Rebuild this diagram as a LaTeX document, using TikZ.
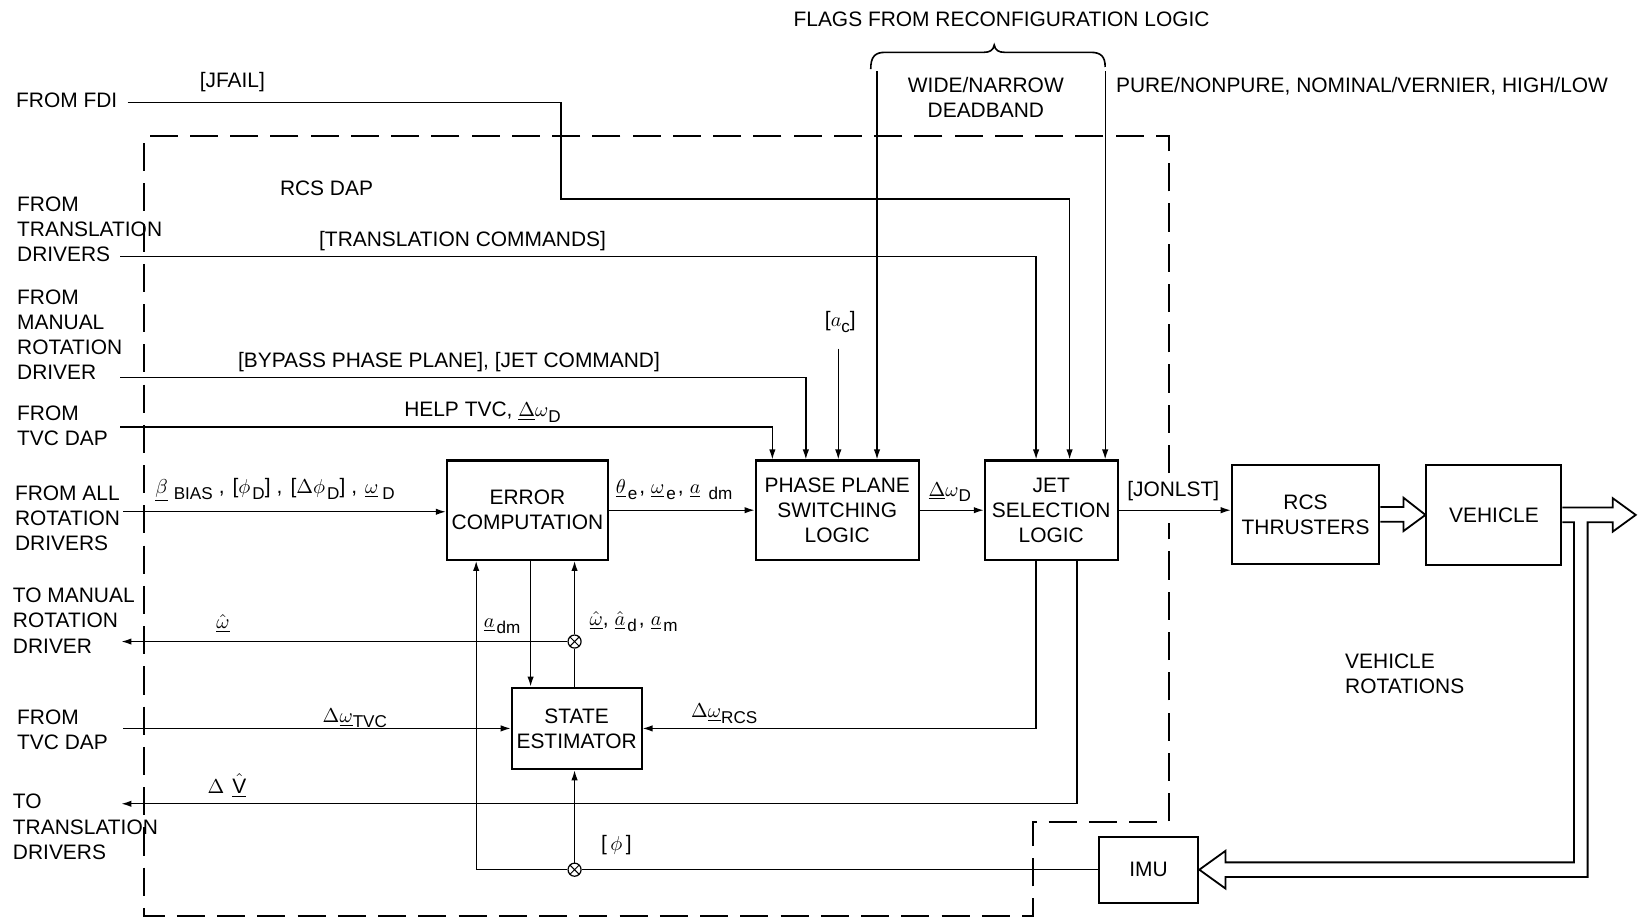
\documentclass[tikz,border=0pt]{standalone}
\usepackage{fontspec}
\setmainfont{Liberation Sans}
\setsansfont{Liberation Sans}
\usetikzlibrary{arrows.meta,calc}
\newcommand{\sbx}[1]{\raisebox{-0.5ex}{\fontsize{8.5}{8.5}\selectfont #1}}
\begin{document}
\begin{tikzpicture}[x=0.52pt,y=-0.52pt,
  txt/.style={inner sep=0pt,font=\fontsize{10.4}{12.5}\selectfont},
  bl/.style={txt,anchor=base},
  bw/.style={txt,anchor=base west},
  lft/.style={txt,align=left,anchor=west},
  blk/.style={draw,line width=1pt,align=center,inner sep=0pt,font=\fontsize{10.4}{12.5}\selectfont},
  ln/.style={line width=0.65pt},
  arr/.style={ln,-{Latex[length=5pt,width=3.2pt]}},
  dbox/.style={line width=1pt,dash pattern=on 14pt off 6pt},
  hol/.style={line width=0.9pt,line join=miter},
  jn/.style={circle,draw,line width=0.6pt,fill=white,inner sep=0pt,minimum size=6.5pt,
    path picture={\draw[line width=0.5pt] (path picture bounding box.south west)--(path picture bounding box.north east) (path picture bounding box.north west)--(path picture bounding box.south east);}}
]
\useasboundingbox (0,0) rectangle (1568,878);

% blocks
\node[blk,minimum width=80.08pt,minimum height=49.4pt] (err) at (504,487.5) {ERROR\\COMPUTATION};
\node[blk,minimum width=81.12pt,minimum height=49.4pt] (ph) at (800,487.5) {PHASE PLANE\\SWITCHING\\LOGIC};
\node[blk,minimum width=66.04pt,minimum height=49.4pt] (jet) at (1004.5,487.5) {JET\\SELECTION\\LOGIC};
\node[blk,minimum width=73.32pt,minimum height=49.4pt] (rcs) at (1247.5,491.5) {RCS\\THRUSTERS};
\node[blk,minimum width=67.08pt,minimum height=49.92pt] (veh) at (1427.5,492) {VEHICLE};
\node[blk,minimum width=64.48pt,minimum height=40.56pt] (st) at (551,696) {STATE\\ESTIMATOR};
\node[blk,minimum width=49.4pt,minimum height=32.76pt] (imu) at (1097.5,831) {IMU};

% junctions
\node[jn] (c1) at (549,613) {};
\node[jn] (c2) at (549,831) {};

% free ends
\coordinate (fdi) at (122,98);
\coordinate (trn) at (115,245);
\coordinate (man) at (115,361);
\coordinate (tvca) at (115,408);
\coordinate (allr) at (118,489);
\coordinate (toman) at (116,613);
\coordinate (tvcb) at (118,696);
\coordinate (totr) at (116,768);
\coordinate (flagA) at (838,68);
\coordinate (flagB) at (1056,68);
\coordinate (acq) at (801,333);

% dashed RCS DAP border (gap at the [JONLST] label)
\draw[dbox] (1117,452) -- (1117,130) -- (138,130) -- (138,875) -- (987,875) -- (987,785) -- (1117,785) -- (1117,500);

% brace
\draw[line width=0.8pt] (832,66) .. controls (832,54) and (836,50) .. (846,50) -- (940,50)
  .. controls (946,50) and (949,48) .. (950,43) .. controls (951,48) and (954,50) .. (960,50)
  -- (1042,50) .. controls (1052,50) and (1056,54) .. (1056,64);

% connectors
\draw[arr] (fdi) -- (536,98) -- (536,190) -- (1022,190) -- (1022,0 |- jet.north);
\draw[arr] (trn) -- (990,245) -- (990,0 |- jet.north);
\draw[arr] (flagB) -- (flagB |- jet.north);
\draw[arr] (man) -- (770,361) -- (770,0 |- ph.north);
\draw[arr] (tvca) -- (738,408) -- (738,0 |- ph.north);
\draw[arr] (acq) -- (acq |- ph.north);
\draw[arr] (flagA) -- (flagA |- ph.north);
\draw[arr] (allr) -- (allr -| err.west);
\draw[arr] (err.east) -- (ph.west);
\draw[arr] (ph.east) -- (jet.west);
\draw[arr] (jet.east) -- (jet.east -| rcs.west);
\draw[arr] (507,0 |- err.south) -- (507,0 |- st.north);
\draw[ln] (c1 |- st.north) -- (c1);
\draw[arr] (c1) -- (c1 |- err.south);
\draw[arr] (c1) -- (toman);
\draw[arr] (c2) -- (c2 |- st.south);
\draw[ln] (imu) -- (c2);
\draw[arr] (c2) -- (455,831) -- (455,0 |- err.south);
\draw[arr] (tvcb) -- (tvcb -| st.west);
\draw[arr] (990,0 |- jet.south) -- (990,696) -- (st.east);
\draw[arr] (1029,0 |- jet.south) -- (1029,768) -- (totr);

% hollow arrows
\draw[hol] ($(rcs.east)+(0,-7)$) -- ++(22,0) -- ++(0,-9) -- (veh.west) -- ($(rcs.east)+(22,16)$) -- ++(0,-9) -- ($(rcs.east)+(0,7)$);
\draw[hol] ($(veh.east)+(0,-7)$) -- ++(48,0) -- ++(0,-9) -- ++(22,16) -- ++(-22,16) -- ++(0,-9) -- ++(-24,0)
  -- ($(imu.east)+(371,7)$) -- ++(-346,0) -- ++(0,11) -- (imu.east) -- ++(25,-18) -- ++(0,11) -- ++(333,0)
  -- ($(veh.east)+(11,7)$) -- ++(-11,0);

% texts
\node[bl] (flags) at (957,25) {FLAGS FROM RECONFIGURATION LOGIC};
\node[txt,align=center] (wide) at (942,93) {WIDE/NARROW\\DEADBAND};
\node[bw] (pure) at (1066,88) {PURE/NONPURE, NOMINAL/VERNIER, HIGH/LOW};
\node[bl] (jfail) at (222,84) {[JFAIL]};
\node[bl] (rcsdap) at (312,187) {RCS DAP};
\node[bl] (trcmd) at (442,236) {[TRANSLATION COMMANDS]};
\node[bl] (bypass) at (429,351) {[BYPASS PHASE PLANE], [JET COMMAND]};
\node[bl] (aclbl) at (803,312) {[$a$\sbx{c}]};
\node[bl] (help) at (461,398) {HELP TVC, $\underline{\Delta}\omega$\sbx{D}};
\node[bw] (betal) at (148,472) {$\underline{\beta}$\hspace{3pt}\sbx{BIAS}\hspace{3pt},\hspace{4pt}[$\phi$\hspace{1pt}\sbx{D}]\hspace{3pt},\hspace{4pt}[$\Delta\phi$\hspace{1pt}\sbx{D}]\hspace{3pt},\hspace{4pt}$\underline{\omega}$\hspace{2pt}\sbx{D}};
\node[bw] (thetal) at (588,472) {$\underline{\theta}$\hspace{1pt}\sbx{e}\hspace{1pt},\hspace{3pt}$\underline{\omega}$\hspace{1pt}\sbx{e}\hspace{1pt},\hspace{3pt}$\underline{a}$\hspace{4pt}\sbx{dm}};
\node[bw] (dwd) at (887,474) {$\underline{\Delta}\omega$\sbx{D}};
\node[bl] (jonlst) at (1121,474) {[JONLST]};
\node[bw] (adm) at (462,600) {$\underline{a}$\hspace{1pt}\sbx{dm}};
\node[bl] (omh) at (213,601) {$\hat{\underline{\omega}}$};
\node[bw] (omh3) at (563,598) {$\hat{\underline{\omega}}$,\hspace{3pt}$\hat{\underline{a}}$\hspace{1pt}\sbx{d}\hspace{1pt},\hspace{3pt}$\underline{a}$\hspace{1pt}\sbx{m}};
\node[bw] (dwtvc) at (308,690) {$\Delta\underline{\omega}$\sbx{TVC}};
\node[bw] (dwrcs) at (660,686) {$\Delta\underline{\omega}$\sbx{RCS}};
\node[bw] (dv) at (198,758) {$\Delta$\hspace{4pt}$\hat{\underline{\hbox{V}}}$};
\node[bl] (phil) at (589,813) {[\,$\phi$\,]};
\node[lft] (vrot) at (1285,644) {VEHICLE\\ROTATIONS};

% left labels
\node[lft] (lfdi) at (15,96) {FROM FDI};
\node[lft] (ltrn) at (16,219) {FROM\\TRANSLATION\\DRIVERS};
\node[lft] (lman) at (16,320) {FROM\\MANUAL\\ROTATION\\DRIVER};
\node[lft] (ltvca) at (16,407) {FROM\\TVC DAP};
\node[lft] (lall) at (14,495.5) {FROM ALL\\ROTATION\\DRIVERS};
\node[lft] (ltoman) at (12,593) {TO MANUAL\\ROTATION\\DRIVER};
\node[lft] (ltvcb) at (16,697) {FROM\\TVC DAP};
\node[lft] (ltotr) at (12,790) {TO\\TRANSLATION\\DRIVERS};
\end{tikzpicture}
\end{document}
